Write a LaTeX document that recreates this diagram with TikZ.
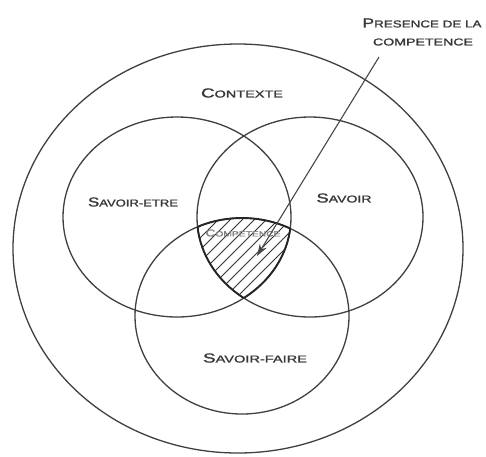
\documentclass[tikz,border=0pt]{standalone}
\usepackage{fontspec}
\usepackage{graphicx}
\setmainfont{Liberation Sans}
\newfontfamily\labfont{Liberation Sans}[BoldFont={Liberation Sans},BoldFeatures={FakeBold=1.2}]
\usetikzlibrary{arrows.meta}
\newcommand{\fsc}[3]{\resizebox{#1}{\height}{\labfont\bfseries{\fontsize{13}{13}\selectfont #2}{\fontsize{10}{10}\selectfont #3}}}
\newcommand{\fscs}[3]{\resizebox{#1}{\height}{\labfont\bfseries{\fontsize{10}{10}\selectfont #2}{\fontsize{7.5}{7.5}\selectfont #3}}}
\begin{document}
\begin{tikzpicture}[x=1pt,y=-1pt,
  ring/.style={draw=black!75, line width=1.3pt},
  lensline/.style={draw=black!85, line width=1.9pt},
  hatch/.style={draw=black!80, line width=0.8pt},
  lab/.style={inner sep=0pt, text=black!78, anchor=center},
  ptr/.style={draw=black!72, line width=1.1pt, -{Stealth[length=12pt,width=8pt]}}]
\useasboundingbox (0,0) rectangle (486,456);
\fill[white] (0,0) rectangle (486,456);
% circles
\draw[ring] (238,248.5) ellipse [x radius=225, y radius=204.5];
\draw[ring] (177,217) ellipse [x radius=114, y radius=100];
\draw[ring] (310,217) ellipse [x radius=113, y radius=100];
\draw[ring] (242,316) ellipse [x radius=107, y radius=98];
% hatched triple intersection
\begin{scope}
  \clip (177,217) ellipse [x radius=114, y radius=100];
  \clip (310,217) ellipse [x radius=113, y radius=100];
  \clip (242,316) ellipse [x radius=107, y radius=98];
  \foreach \k in {0,12,...,252} {
    \draw[hatch] (60+\k,330) -- (60+\k+130,200);
  }
\end{scope}
\begin{scope}
  \clip (177,217) ellipse [x radius=114, y radius=100];
  \clip (310,217) ellipse [x radius=113, y radius=100];
  \draw[lensline] (242,316) ellipse [x radius=107, y radius=98];
\end{scope}
\begin{scope}
  \clip (177,217) ellipse [x radius=114, y radius=100];
  \clip (242,316) ellipse [x radius=107, y radius=98];
  \draw[lensline] (310,217) ellipse [x radius=113, y radius=100];
\end{scope}
\begin{scope}
  \clip (310,217) ellipse [x radius=113, y radius=100];
  \clip (242,316) ellipse [x radius=107, y radius=98];
  \draw[lensline] (177,217) ellipse [x radius=114, y radius=100];
\end{scope}
% labels
\node[lab] (ctx) at (242,93) {\fsc{82pt}{C}{ONTEXTE}};
\node[lab] (se) at (133,202) {\fsc{90pt}{S}{AVOIR-ETRE}};
\node[lab] (sv) at (344,198) {\fsc{55pt}{S}{AVOIR}};
\node[lab] (sf) at (255,358) {\fsc{104pt}{S}{AVOIR-FAIRE}};
\node[lab, text=black!50] (cp) at (243,233) {\fscs{75pt}{C}{OMPETENCE}};
\node[lab] (pr1) at (422,23) {\fsc{119pt}{P}{RESENCE DE LA}};
\node[lab] (pr2) at (423,42) {\resizebox{100pt}{\height}{\labfont\bfseries\fontsize{10}{10}\selectfont COMPETENCE}};
% pointer
\coordinate (astart) at (379,57);
\coordinate (atip) at (257,256);
\draw[ptr] (astart) -- (atip);
\end{tikzpicture}
\end{document}
